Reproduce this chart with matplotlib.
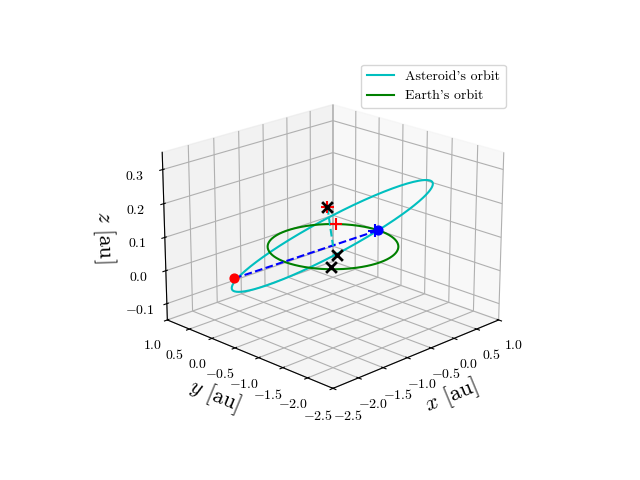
import numpy as np
import matplotlib
matplotlib.use("Agg")
import matplotlib.pyplot as plt

plt.rcParams["mathtext.fontset"] = "cm"
plt.rcParams["font.family"] = "serif"
plt.rcParams["font.serif"] = ["cmr10"]
plt.rcParams["axes.formatter.use_mathtext"] = True

# orbit parameters (au, deg)
ast_a = 1.69
ast_e = 0.46
ast_inc = -8.5
ast_node = 0.0
ast_peri = 43.6
earth_r = 1.0

red_pt = [-2.0, 0.05, 0.0]
blue_pt = [1.0, 0.0, 0.0]
origin = [0.0, 0.0, 0.0]
top_pt = [-0.06, 0.06, 0.12]
plus_x = [-0.06, 0.03, 0.95]
plus_y = [0.06, -0.03, 0.03]
plus_z = [0.12, 0.067, 0.0]
plus_c = ["r", "r", "b"]
cross_x = [-0.06, -0.25, -0.66]
cross_y = [0.06, -0.33, -0.62]
cross_z = [0.12, 0.0, 0.0]

def orbit(a, e, inc, node, peri, n=400):
    nu = np.linspace(0, 2*np.pi, n)
    r = a*(1-e**2)/(1+e*np.cos(nu))
    xp, yp = r*np.cos(nu), r*np.sin(nu)
    i, O, w = np.radians([inc, node, peri])
    x = (np.cos(O)*np.cos(w)-np.sin(O)*np.sin(w)*np.cos(i))*xp + (-np.cos(O)*np.sin(w)-np.sin(O)*np.cos(w)*np.cos(i))*yp
    y = (np.sin(O)*np.cos(w)+np.cos(O)*np.sin(w)*np.cos(i))*xp + (-np.sin(O)*np.sin(w)+np.cos(O)*np.cos(w)*np.cos(i))*yp
    z = np.sin(w)*np.sin(i)*xp + np.cos(w)*np.sin(i)*yp
    return x, y, z

fig = plt.figure(figsize=(6.4, 4.8), dpi=100)
ax = fig.add_subplot(projection="3d")
ax.view_init(elev=20, azim=-135)

x, y, z = orbit(ast_a, ast_e, ast_inc, ast_node, ast_peri)
ax.plot(x, y, z, color="c", label="Asteroid's orbit")
t = np.linspace(0, 2*np.pi, 300)
ax.plot(earth_r*np.cos(t), earth_r*np.sin(t), 0*t, color="g", label="Earth's orbit")
ax.plot(*zip(red_pt, blue_pt), "b--")
ax.plot(*zip(top_pt, origin), "c--")
ax.scatter(*red_pt, color="r", s=40, depthshade=False)
ax.scatter(*blue_pt, color="b", s=40, depthshade=False)
ax.scatter(plus_x, plus_y, plus_z, c=plus_c, marker="+", s=80, depthshade=False)
ax.scatter(cross_x, cross_y, cross_z, color="k", marker="x", s=60, linewidths=2, depthshade=False)

ax.set_xlim(-2.5, 1.0)
ax.set_ylim(-2.5, 1.0)
ax.set_zlim(-0.15, 0.35)
ax.set_xticks(np.arange(-2.5, 1.01, 0.5))
ax.set_yticks(np.arange(-2.5, 1.01, 0.5))
ax.set_zticks([-0.1, 0.0, 0.1, 0.2, 0.3])
ax.set_xlabel(r"$x$ [au]", fontsize=16)
ax.set_ylabel(r"$y$ [au]", fontsize=16)
ax.set_zlabel(r"$z$ [au]", fontsize=16)
ax.legend(loc="upper right")
fig.savefig("out.png", dpi=100)
